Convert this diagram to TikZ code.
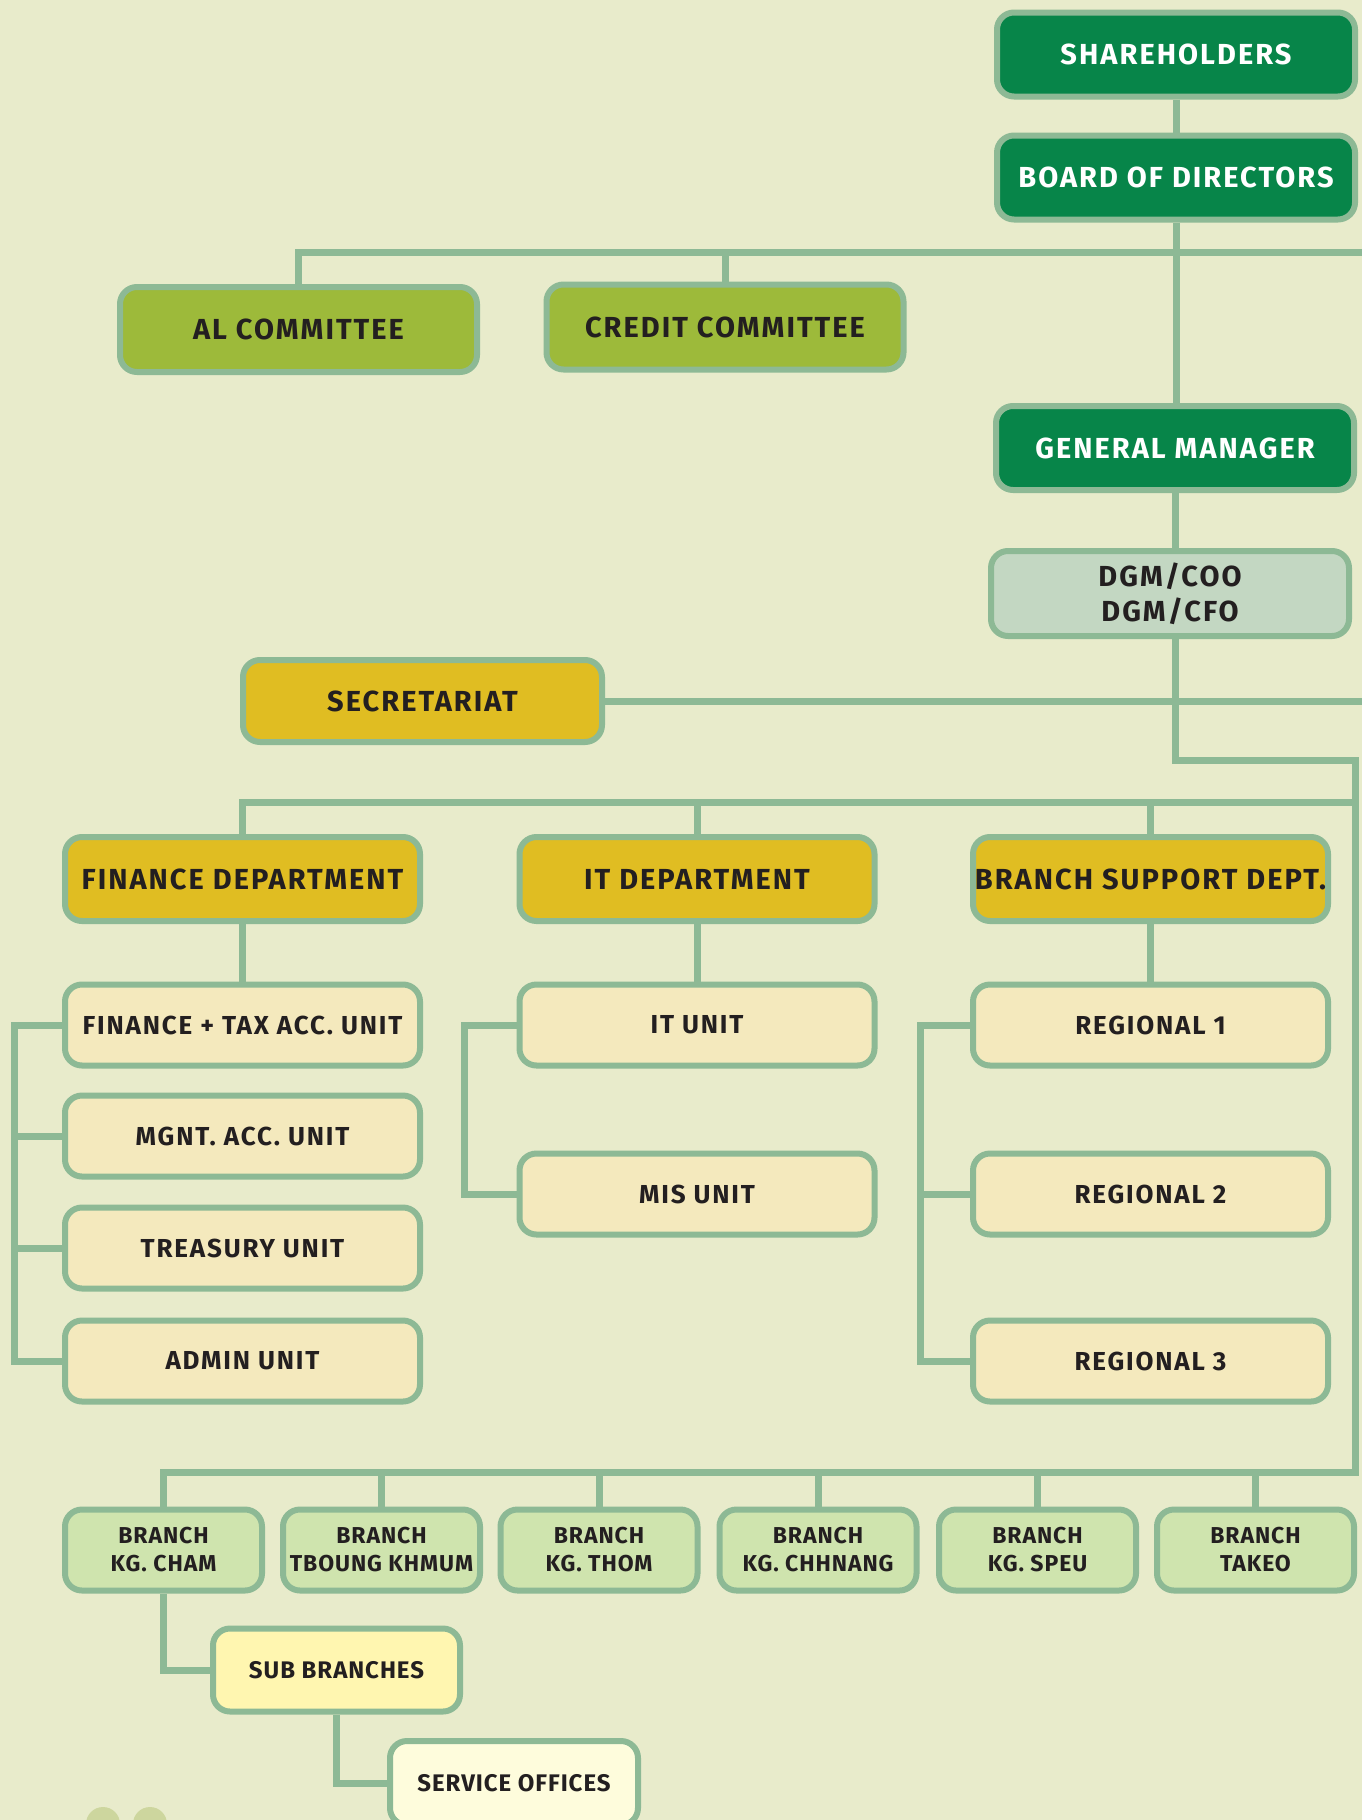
\documentclass[tikz,border=0pt]{standalone}
\usepackage{fontspec}
\setmainfont{Fira Sans}[LetterSpace=7]
\newfontfamily\brfont{Fira Sans}[LetterSpace=4]
\definecolor{bg}{HTML}{E8EBCB}
\definecolor{lc}{HTML}{8DB995}
\definecolor{dkg}{HTML}{078549}
\definecolor{lgr}{HTML}{9DBA3A}
\definecolor{ylw}{HTML}{E0BD22}
\definecolor{unitc}{HTML}{F4E9BD}
\definecolor{dgmc}{HTML}{C3D7C2}
\definecolor{brc}{HTML}{CFE4AE}
\definecolor{subc}{HTML}{FFF6B0}
\definecolor{svcc}{HTML}{FEFCDC}
\definecolor{txt}{HTML}{231F20}
\definecolor{circ}{HTML}{CDD69E}
\tikzset{
  bx/.style={draw=lc, line width=6pt, rounded corners=17pt, inner sep=0pt, align=center, text=txt,
    font=\bfseries\fontsize{29}{35}\selectfont},
  topbox/.style={bx, fill=dkg, text=white, minimum width=358pt, minimum height=84pt},
  combox/.style={bx, fill=lgr, minimum width=357pt, minimum height=85pt},
  deptbox/.style={bx, fill=ylw, minimum width=355pt, minimum height=84pt},
  unitbox/.style={bx, fill=unitc, minimum width=355pt, minimum height=81pt,
    font=\bfseries\fontsize{26}{31}\selectfont},
  brbox/.style={bx, fill=brc, minimum width=197pt, minimum height=81pt,
    font=\brfont\bfseries\fontsize{23}{28}\selectfont},
  smallbox/.style={bx, minimum width=247pt, minimum height=83pt,
    font=\brfont\bfseries\fontsize{24}{28}\selectfont},
  ln/.style={draw=lc, line width=7pt}
}
\begin{document}
\begin{tikzpicture}[x=1pt,y=-1pt]
\clip (0,0) rectangle (1362,1820);
\fill[bg] (0,0) rectangle (1362,1820);
\fill[circ] (103,1824) circle (17pt);
\fill[circ] (150,1824) circle (17pt);

% nodes
\node[topbox] (sh) at (1176,54.5) {SHAREHOLDERS};
\node[topbox] (bd) at (1176,177.5) {BOARD OF DIRECTORS};
\node[combox] (al) at (298.5,329.5) {AL COMMITTEE};
\node[combox] (cc) at (725,327) {CREDIT COMMITTEE};
\node[topbox] (gm) at (1175,448) {GENERAL MANAGER};
\node[bx, fill=dgmc, minimum width=358pt, minimum height=85pt] (dgm) at (1170,593.5) {DGM/COO\\DGM/CFO};
\node[deptbox, minimum width=359pt, minimum height=82pt] (sec) at (422.5,701) {SECRETARIAT};
\node[deptbox] (fd) at (242.5,879) {FINANCE DEPARTMENT};
\node[deptbox] (itd) at (697,879) {IT DEPARTMENT};
\node[deptbox] (bsd) at (1150.5,879) {BRANCH SUPPORT DEPT.};

\node[unitbox] (fu1) at (242.5,1025) {FINANCE + TAX ACC. UNIT};
\node[unitbox] (fu2) at (242.5,1136) {MGNT. ACC. UNIT};
\node[unitbox] (fu3) at (242.5,1248) {TREASURY UNIT};
\node[unitbox] (fu4) at (242.5,1361) {ADMIN UNIT};
\node[unitbox] (iu1) at (697,1025) {IT UNIT};
\node[unitbox] (iu2) at (697,1194) {MIS UNIT};
\node[unitbox] (ru1) at (1150.5,1025) {REGIONAL 1};
\node[unitbox] (ru2) at (1150.5,1194) {REGIONAL 2};
\node[unitbox] (ru3) at (1150.5,1361) {REGIONAL 3};

\node[brbox] (b1) at (163.5,1550) {BRANCH\\KG. CHAM};
\node[brbox] (b2) at (381.5,1550) {BRANCH\\TBOUNG KHMUM};
\node[brbox] (b3) at (599,1550) {BRANCH\\KG. THOM};
\node[brbox] (b4) at (818,1550) {BRANCH\\KG. CHHNANG};
\node[brbox] (b5) at (1037.5,1550) {BRANCH\\KG. SPEU};
\node[brbox] (b6) at (1255.5,1550) {BRANCH\\TAKEO};

\node[smallbox, fill=subc] (sub) at (336.5,1670) {SUB BRANCHES};
\node[smallbox, fill=svcc, minimum width=248pt, minimum height=84pt] (svc) at (514,1783) {SERVICE OFFICES};

% helper coordinates
\coordinate (cl) at (1370,252);
\coordinate (cr) at (1370,0);
\coordinate (k1) at (1355,760);
\coordinate (k2) at (1355,1472);
\coordinate (dl) at (1355,802);
\coordinate (fb) at (14,0);
\coordinate (ib) at (464,0);
\coordinate (rb) at (920,0);

% connectors
\draw[ln] (sh.south) -- (sh.south |- bd.north);
\draw[ln] (bd.south) -- (bd.south |- gm.north);
\draw[ln] (al.north) -- (al.north |- cl) -- (cl);
\draw[ln] (cc.north) -- (cc.north |- cl);
\draw[ln] (gm.south) -- (gm.south |- dgm.north);
\draw[ln] (sec.east) -- (sec.east -| cr);
\draw[ln] (dgm.south -| gm.south) |- (k1) -- (k2) -| (b1.north);
\draw[ln] (fd.north) |- (dl) -- (k1);
\draw[ln] (itd.north) -- (itd.north |- dl);
\draw[ln] (bsd.north) -- (bsd.north |- dl);
\draw[ln] (fd.south) -- (fu1.north);
\draw[ln] (itd.south) -- (iu1.north);
\draw[ln] (bsd.south) -- (ru1.north);

\draw[ln] (fu1.west) -- (fu1.west -| fb) -- (fu4.west -| fb) -- (fu4.west);
\draw[ln] (fu2.west) -- (fu2.west -| fb);
\draw[ln] (fu3.west) -- (fu3.west -| fb);
\draw[ln] (iu1.west) -- (iu1.west -| ib) -- (iu2.west -| ib) -- (iu2.west);
\draw[ln] (ru1.west) -- (ru1.west -| rb) -- (ru3.west -| rb) -- (ru3.west);
\draw[ln] (ru2.west) -- (ru2.west -| rb);

\draw[ln] (b2.north) -- (b2.north |- k2);
\draw[ln] (b3.north) -- (b3.north |- k2);
\draw[ln] (b4.north) -- (b4.north |- k2);
\draw[ln] (b5.north) -- (b5.north |- k2);
\draw[ln] (b6.north) -- (b6.north |- k2);
\draw[ln] (b1.south) |- (sub.west);
\draw[ln] (sub.south) |- (svc.west);
\end{tikzpicture}
\end{document}
